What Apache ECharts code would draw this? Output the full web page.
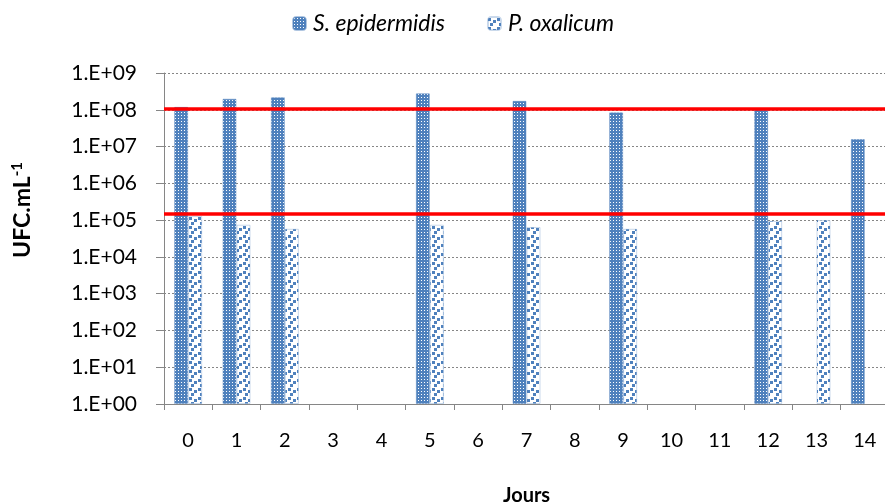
<!DOCTYPE html>
<html>
<head>
<meta charset="utf-8">
<script src="https://cdn.jsdelivr.net/npm/echarts@6/dist/echarts.min.js"></script>
<style>
html,body{margin:0;padding:0;background:#fff;}
#chart{width:885px;height:504px;}
</style>
</head>
<body>
<div id="chart"></div>
<script>
const days = ['0','1','2','3','4','5','6','7','8','9','10','11','12','13','14'];
const sEpidermidis = [1.2e8, 2.0e8, 2.2e8, null, null, 2.8e8, null, 1.75e8, null, 8.5e7, null, null, 1.0e8, null, 1.6e7];
const pOxalicum = [1.3e5, 7.5e4, 5.8e4, null, null, 7.5e4, null, 6.5e4, null, 5.8e4, null, null, 9.5e4, 1.0e5, null];
const thresholds = [1.1e8, 1.5e5];
const seriesNames = ['S. epidermidis', 'P. oxalicum'];

const BLUE = '#4F81BD';
function gridPattern() {
  const c = document.createElement('canvas');
  c.width = 3; c.height = 3;
  const g = c.getContext('2d');
  g.fillStyle = BLUE; g.fillRect(0, 0, 3, 3);
  g.fillStyle = '#ffffff'; g.fillRect(1, 1, 1, 1);
  return c;
}
function confettiPattern() {
  const c = document.createElement('canvas');
  c.width = 9; c.height = 9;
  const g = c.getContext('2d');
  g.fillStyle = '#ffffff'; g.fillRect(0, 0, 9, 9);
  g.fillStyle = BLUE;
  g.fillRect(0, 1, 3, 3);
  g.fillRect(5, 3, 3, 3);
  g.fillRect(2, 6, 3, 3);
  return c;
}

const chart = echarts.init(document.getElementById('chart'), null, {renderer: 'canvas'});
const FONT = 'Lato';
const axisGray = '#868686';

chart.setOption({
  animation: false,
  textStyle: {fontFamily: FONT},
  legend: {
    top: 7,
    left: 287,
    itemWidth: 13,
    itemHeight: 13,
    itemGap: 42,
    textStyle: {fontSize: 23, fontStyle: 'italic', color: '#000', fontFamily: FONT, padding: [0, 0, 0, 2]},
    data: seriesNames
  },
  grid: {left: 164, top: 73, width: 725, height: 331, outerBoundsMode: 'none', containLabel: false},
  xAxis: {
    type: 'category',
    data: days,
    name: 'Jours',
    nameLocation: 'middle',
    nameGap: 82,
    nameTextStyle: {fontSize: 20, fontWeight: 'bold', color: '#000', fontFamily: FONT},
    axisLine: {lineStyle: {color: axisGray, width: 1}},
    axisTick: {show: true, interval: 0, length: 6, lineStyle: {color: axisGray}},
    axisLabel: {fontSize: 20, color: '#000', margin: 27, interval: 0, fontFamily: FONT}
  },
  yAxis: {
    type: 'log',
    logBase: 10,
    min: 1,
    max: 1e9,
    axisLine: {show: true, lineStyle: {color: axisGray, width: 1}},
    axisTick: {show: true, length: 8, lineStyle: {color: axisGray}},
    axisLabel: {
      fontSize: 21, color: '#000', margin: 27, fontFamily: FONT,
      formatter: v => '1.E+' + String(Math.round(Math.log10(v))).padStart(2, '0')
    },
    splitLine: {show: true, lineStyle: {color: axisGray, type: [2, 2], width: 1}}
  },
  graphic: [{
    type: 'text',
    x: 23, y: 210,
    rotation: Math.PI / 2,
    style: {
      text: '{a|UFC.mL}{b|-1}',
      align: 'center',
      verticalAlign: 'middle',
      rich: {
        a: {fontSize: 23, fontWeight: 'bold', fontFamily: FONT, fill: '#000'},
        b: {fontSize: 15, fontWeight: 'bold', fontFamily: FONT, fill: '#000', verticalAlign: 'top', padding: [0, 0, 12, 0]}
      }
    }
  }],
  series: [
    {
      name: seriesNames[0],
      type: 'bar',
      data: sEpidermidis,
      barWidth: 14,
      barGap: '0%',
      itemStyle: {color: {image: gridPattern(), repeat: 'repeat'}, borderColor: 'rgba(79,129,189,0.45)', borderWidth: 1},
      markLine: {
        silent: true,
        symbol: ['none', 'none'],
        label: {show: false},
        lineStyle: {color: '#FF0000', width: 3.5, type: 'solid'},
        data: thresholds.map(v => ({yAxis: v}))
      },
      z: 2
    },
    {
      name: seriesNames[1],
      type: 'bar',
      data: pOxalicum,
      barWidth: 14,
      barGap: '0%',
      itemStyle: {color: {image: confettiPattern(), repeat: 'repeat'}, borderColor: 'rgba(79,129,189,0.3)', borderWidth: 1},
      z: 2
    }
  ]
});
</script>
</body>
</html>
